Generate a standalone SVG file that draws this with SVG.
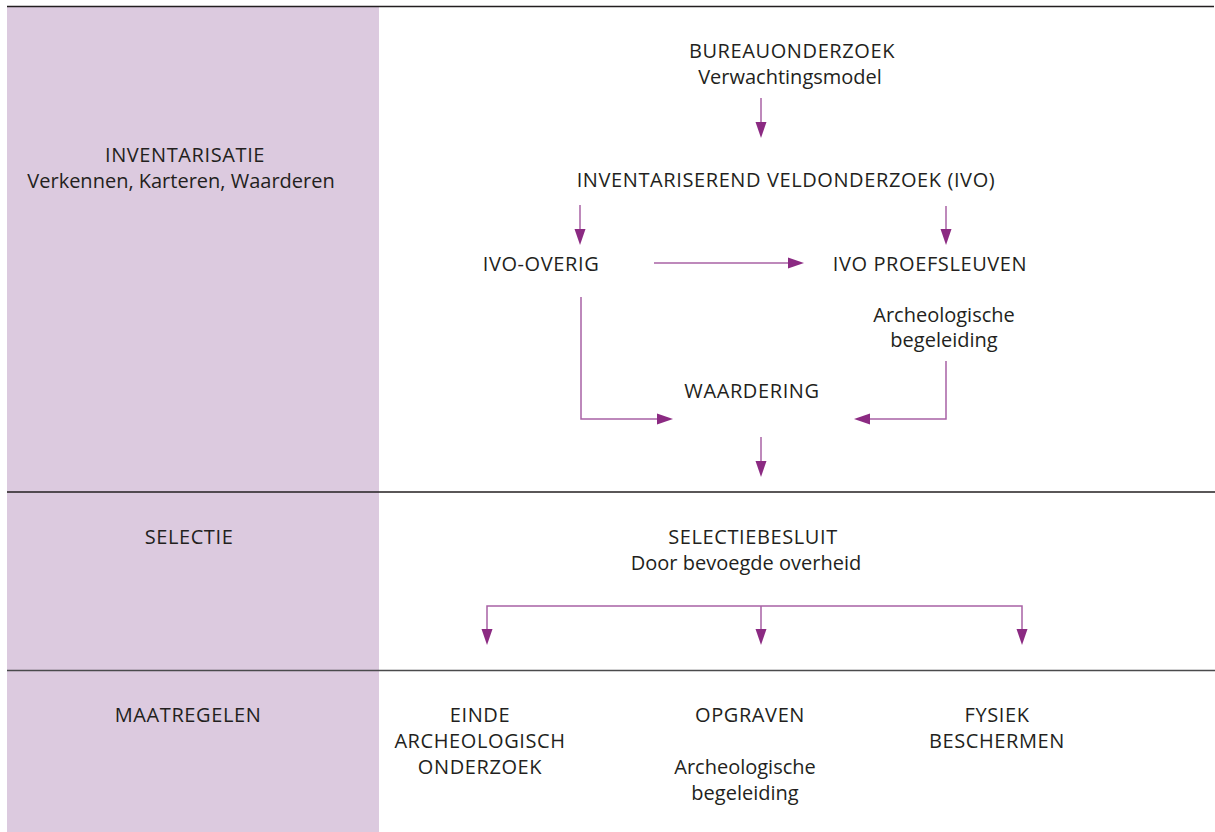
<svg xmlns="http://www.w3.org/2000/svg" width="1215" height="832" viewBox="0 0 1215 832">
<style>
text{font-family:"Open Sans","Liberation Sans",sans-serif;font-size:20px;fill:#231f20;text-anchor:middle}
.u{letter-spacing:0.6px}
.c{stroke:#a862a5;stroke-width:1.5;fill:none}
.h{fill:#8b2a82;stroke:none}
</style>
<defs>
<path id="ad" class="h" d="M-5.5,-16 L5.5,-16 L0,0 Z"/>
<path id="ar" class="h" d="M-16,-5.5 L-16,5.5 L0,0 Z"/>
<path id="al" class="h" d="M16,-5.5 L16,5.5 L0,0 Z"/>
</defs>
<rect width="1215" height="832" fill="#fff"/>
<g id="bands">
<rect x="7" y="7" width="372" height="825" fill="#dccadf"/>
<line x1="7" y1="6.5" x2="1214" y2="6.5" stroke="#231f20" stroke-width="1.5"/>
<line x1="7" y1="492" x2="1215" y2="492" stroke="#231f20" stroke-width="1.5"/>
<line x1="7" y1="670.5" x2="1215" y2="670.5" stroke="#4a4a4c" stroke-width="1.5"/>
</g>
<g id="phases">
<g id="inventarisatie"><text class="u" x="185" y="162">INVENTARISATIE</text><text x="181" y="188">Verkennen, Karteren, Waarderen</text></g>
<g id="selectie"><text class="u" x="189" y="544">SELECTIE</text></g>
<g id="maatregelen"><text class="u" x="188" y="722">MAATREGELEN</text></g>
</g>
<g id="bureauonderzoek"><text class="u" x="792" y="58">BUREAUONDERZOEK</text><text x="790" y="84">Verwachtingsmodel</text></g>
<g id="ivo"><text class="u" x="786" y="187">INVENTARISEREND VELDONDERZOEK (IVO)</text></g>
<g id="ivo-overig"><text class="u" x="541" y="271">IVO-OVERIG</text></g>
<g id="ivo-proefsleuven"><text class="u" x="930" y="271">IVO PROEFSLEUVEN</text></g>
<g id="arch-begeleiding-1"><text x="944" y="322">Archeologische</text><text x="944" y="347">begeleiding</text></g>
<g id="waardering"><text class="u" x="752" y="398">WAARDERING</text></g>
<g id="selectiebesluit"><text class="u" x="753" y="544">SELECTIEBESLUIT</text><text x="746" y="570">Door bevoegde overheid</text></g>
<g id="einde"><text class="u" x="480" y="722">EINDE</text><text class="u" x="480" y="748">ARCHEOLOGISCH</text><text class="u" x="480" y="774">ONDERZOEK</text></g>
<g id="opgraven"><text class="u" x="750" y="722">OPGRAVEN</text><text x="745" y="774">Archeologische</text><text x="745" y="800">begeleiding</text></g>
<g id="fysiek"><text class="u" x="997" y="722">FYSIEK</text><text class="u" x="997" y="748">BESCHERMEN</text></g>
<g id="connectors">
<path class="c" d="M761,98 V124"/><use href="#ad" x="761" y="138"/>
<path class="c" d="M580,205 V231"/><use href="#ad" x="580" y="245"/>
<path class="c" d="M946,206 V231"/><use href="#ad" x="946" y="245"/>
<path class="c" d="M654,263 H789"/><use href="#ar" x="804" y="263"/>
<path class="c" d="M581,297 V419 H659"/><use href="#ar" x="673" y="419"/>
<path class="c" d="M946,361 V419 H868"/><use href="#al" x="854" y="419"/>
<path class="c" d="M761,437 V463"/><use href="#ad" x="761" y="477"/>
<path class="c" d="M487,631 V606 H1022 V631 M761,606 V631"/>
<use href="#ad" x="487" y="645"/><use href="#ad" x="761" y="645"/><use href="#ad" x="1022" y="645"/>
</g>
</svg>
